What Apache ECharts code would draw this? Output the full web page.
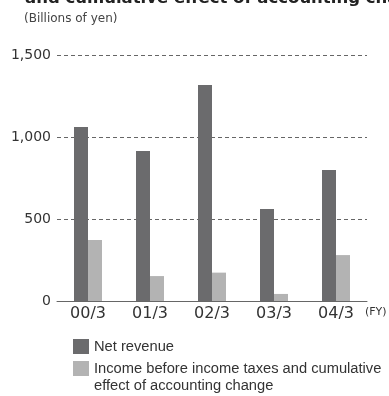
<!DOCTYPE html>
<html><head><meta charset="utf-8">
<script src="https://cdn.jsdelivr.net/npm/echarts@6/dist/echarts.min.js"></script>
<style>html,body{margin:0;padding:0;background:#fff}#c{width:389px;height:396px}</style>
</head><body><div id="c"></div>
<script>
var categories = ['00/3', '01/3', '02/3', '03/3', '04/3'];
var netRevenue = [1061, 915, 1317, 561, 799];
var incomeBeforeTax = [372, 152, 173, 43, 280];
var yTicks = [0, 500, 1000, 1500];
var seriesNames = ['Net revenue', 'Income before income taxes and cumulative\neffect of accounting change'];

var FONT = 'DejaVu Sans';
var chart = echarts.init(document.getElementById('c'));
chart.setOption({
  animation: false,
  title: [
    {text: 'and cumulative effect of accounting change', left: 25, top: -9,
     textStyle: {fontSize: 16.5, fontWeight: 'bold', color: '#222', fontFamily: FONT, lineHeight: 16}, padding: 0},
    {text: '(Billions of yen)', left: 24, top: 12,
     textStyle: {fontSize: 12, fontWeight: 'normal', color: '#444', fontFamily: FONT, lineHeight: 14}, padding: 0}
  ],
  grid: {left: 57, right: 22, top: 55, bottom: 95, containLabel: false},
  xAxis: {
    type: 'category', data: categories,
    axisLine: {lineStyle: {color: '#666', width: 1}},
    axisTick: {show: false},
    axisLabel: {fontSize: 16, color: '#333', margin: 5, fontFamily: FONT}
  },
  yAxis: {
    type: 'value', min: yTicks[0], max: yTicks[yTicks.length - 1], interval: 500,
    axisLine: {show: false}, axisTick: {show: false},
    axisLabel: {fontSize: 14, color: '#333', margin: 6, fontFamily: FONT,
      formatter: function (v) { return v.toLocaleString('en-US'); }},
    splitLine: {lineStyle: {color: '#666', type: [4, 3], width: 1}}
  },
  legend: {
    orient: 'vertical', left: 73, top: 338, height: 150, padding: 0,
    itemWidth: 16, itemHeight: 15, itemGap: -12,
    icon: 'rect',
    textStyle: {fontSize: 14.7, color: '#333', fontFamily: 'Liberation Sans', lineHeight: 17},
    formatter: function (name) {
      return name.indexOf('\n') >= 0 ? '\n' + name : name;
    },
    data: seriesNames
  },
  graphic: [
    {type: 'text', left: 365, top: 307, style: {text: '(FY)', fontSize: 11, fill: '#333', fontFamily: FONT}}
  ],
  series: [
    {name: seriesNames[0], type: 'bar', data: netRevenue, barWidth: 14, barGap: '0%',
     itemStyle: {color: '#6b6b6d'}},
    {name: seriesNames[1], type: 'bar', data: incomeBeforeTax, barWidth: 14,
     itemStyle: {color: '#b3b3b3'}}
  ]
});
</script></body></html>
